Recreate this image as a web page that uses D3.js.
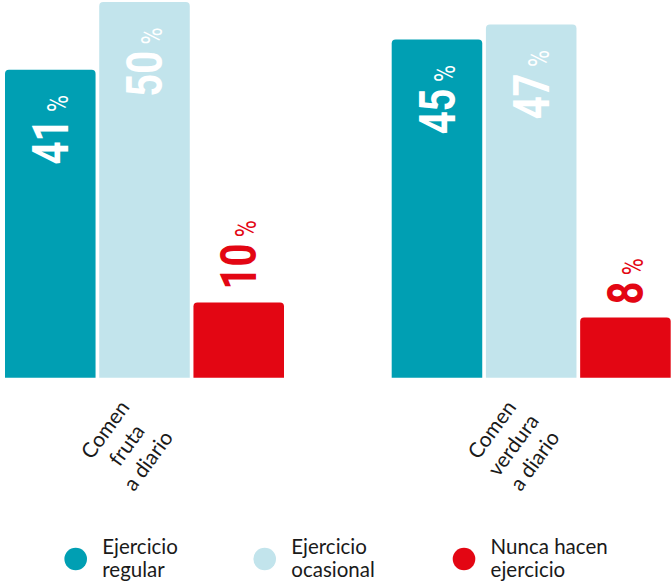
<!DOCTYPE html>
<html>
<head>
<meta charset="utf-8">
<script src="https://cdn.jsdelivr.net/npm/d3@7"></script>
<style>
  html, body { margin: 0; padding: 0; background: #ffffff; }
  svg { display: block; }
</style>
</head>
<body>
<div id="chart"></div>
<script>
// Share of people (%) by exercise habit, for two eating habits
const categories = ["Comen fruta a diario", "Comen verdura a diario"];
const categoryLines = [["Comen", "fruta", "a diario"], ["Comen", "verdura", "a diario"]];
const seriesNames = ["Ejercicio regular", "Ejercicio ocasional", "Nunca hacen ejercicio"];
const legendLines = [["Ejercicio", "regular"], ["Ejercicio", "ocasional"], ["Nunca hacen", "ejercicio"]];
const ejercicioRegular = [41, 45];
const ejercicioOcasional = [50, 47];
const nuncaEjercicio = [10, 8];

const seriesValues = [ejercicioRegular, ejercicioOcasional, nuncaEjercicio];
const seriesColors = ["#009fb3", "#c2e4ec", "#e30613"];

const W = 672, H = 584;
const svg = d3.select("#chart").append("svg")
  .attr("width", W).attr("height", H);

const x0 = d3.scaleBand().domain(categories).range([5, 670.7]).paddingInner(0.2785).paddingOuter(0);
const x1 = d3.scaleBand().domain(seriesNames).range([0, x0.bandwidth()]).paddingInner(0.039).paddingOuter(0);
const y = d3.scaleLinear().domain([0, 50]).range([377.7, 2]);

// bar with rounded top corners
function barPath(x, top, w, bottom, r) {
  const h = bottom - top;
  r = Math.min(r, h, w / 2);
  return `M${x},${bottom}V${top + r}Q${x},${top} ${x + r},${top}H${x + w - r}Q${x + w},${top} ${x + w},${top + r}V${bottom}Z`;
}

const rows = [];
categories.forEach((c, ci) => {
  seriesNames.forEach((s, si) => {
    rows.push({ category: c, series: s, value: seriesValues[si][ci], color: seriesColors[si] });
  });
});

const bars = svg.append("g");
bars.selectAll("path").data(rows).join("path")
  .attr("d", d => barPath(x0(d.category) + x1(d.series), y(d.value), x1.bandwidth(), y(0), 4))
  .attr("fill", d => d.color);

// vertical value labels
const capH = 35.5;
const labels = svg.append("g");
rows.forEach(d => {
  const cx = x0(d.category) + x1(d.series) + x1.bandwidth() / 2;
  const inside = d.value >= 20;
  const ay = inside ? y(d.value) + 25.5 : y(d.value) - 13;
  const t = labels.append("text")
    .attr("transform", `translate(${cx + capH / 2},${ay}) rotate(-90) scale(0.8,1)`)
    .attr("text-anchor", inside ? "end" : "start")
    .attr("fill", inside ? "#ffffff" : "#e30613")
    .attr("font-family", "Roboto, 'DejaVu Sans Condensed', sans-serif");
  t.append("tspan").attr("font-size", 50).attr("font-weight", 700).text(d.value);
  t.append("tspan").attr("font-size", 29).attr("font-weight", 400).attr("dx", 8).text("%");
});

// rotated category labels
const catG = svg.append("g");
categories.forEach((c, ci) => {
  const gx = x0(c) + x0.bandwidth() / 2 - 18;
  const t = catG.append("text")
    .attr("transform", `translate(${gx},445) rotate(-54)`)
    .attr("text-anchor", "middle")
    .attr("font-family", "Lato, 'Noto Sans', sans-serif")
    .attr("font-size", 21)
    .attr("fill", "#1a1a1a");
  const lines = categoryLines[ci];
  lines.forEach((ln, li) => {
    t.append("tspan").attr("x", 0)
      .attr("y", (li - (lines.length - 1) / 2) * 26.5 + 7.5)
      .text(ln);
  });
});

// legend: one text element per line
const legendX = [75.7, 264.7, 464];
const legend = svg.append("g");
seriesNames.forEach((s, si) => {
  const g = legend.append("g");
  g.append("circle").attr("cx", legendX[si]).attr("cy", 559).attr("r", 11.3).attr("fill", seriesColors[si]);
  legendLines[si].forEach((ln, li) => {
    g.append("text")
      .attr("x", legendX[si] + 26.6)
      .attr("y", 554 + li * 23)
      .attr("font-family", "Lato, 'Noto Sans', sans-serif")
      .attr("font-size", 20.5)
      .attr("fill", "#1a1a1a")
      .text(ln);
  });
});
</script>
</body>
</html>
